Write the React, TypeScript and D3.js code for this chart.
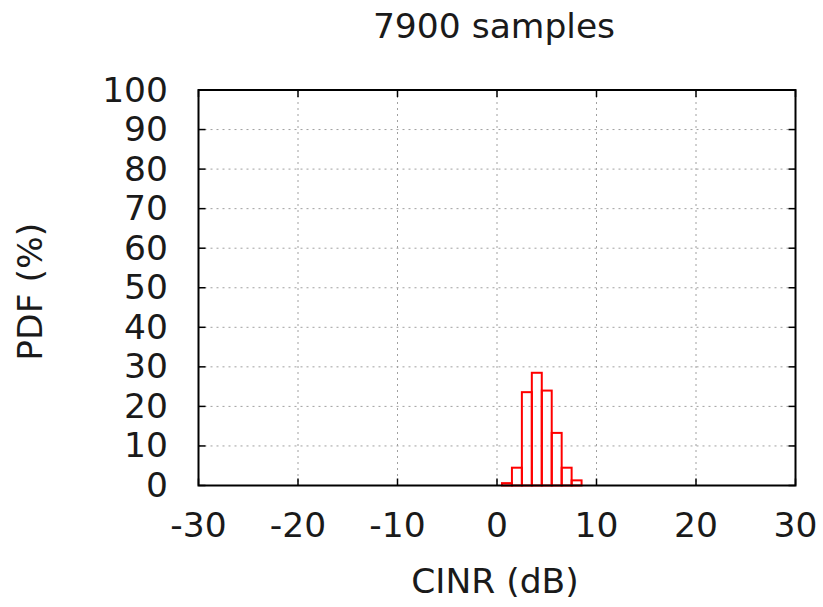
import React, { useEffect } from "react";
import * as d3 from "d3";

const binCenters = [1, 2, 3, 4, 5, 6, 7, 8];
const pdfValues = [0.6, 4.5, 23.6, 28.5, 24.0, 13.3, 4.5, 1.3];
const xTicks = [-30, -20, -10, 0, 10, 20, 30];
const yTicks = [0, 10, 20, 30, 40, 50, 60, 70, 80, 90, 100];
const titleText = "7900 samples";
const xLabel = "CINR (dB)";
const yLabel = "PDF (%)";

const W = 823;
const H = 607;
const left = 198.5;
const right = 795.5;
const top = 90;
const bottom = 485.5;
const font = "'DejaVu Sans', sans-serif";
const fs = 34.5;

export default function App() {
  useEffect(() => {
    document.body.style.margin = "0";
  }, []);
  const x = d3.scaleLinear().domain([-30, 30]).range([left, right]);
  const y = d3.scaleLinear().domain([0, 100]).range([bottom, top]);
  const binW = 1;
  const tickLen = 7;

  return (
    <svg width={W} height={H} style={{ display: "block", background: "#fff" }}>
      <rect x={0} y={0} width={W} height={H} fill="#fff" />
      {/* grid */}
      <g stroke="#a0a0a0" strokeWidth={1} strokeDasharray="2,4">
        {xTicks.slice(1, -1).map((t) => (
          <line key={"gx" + t} x1={x(t)} x2={x(t)} y1={top} y2={bottom} />
        ))}
        {yTicks.slice(1, -1).map((t) => (
          <line key={"gy" + t} x1={left} x2={right} y1={y(t)} y2={y(t)} />
        ))}
      </g>
      {/* bars */}
      <g fill="none" stroke="#ff0000" strokeWidth={2}>
        {binCenters.map((c, i) => (
          <rect
            key={"b" + i}
            x={x(c - binW / 2)}
            y={y(pdfValues[i])}
            width={x(c + binW / 2) - x(c - binW / 2)}
            height={y(0) - y(pdfValues[i])}
          />
        ))}
      </g>
      {/* ticks */}
      <g stroke="#000" strokeWidth={1.5}>
        {xTicks.map((t) => (
          <g key={"tx" + t}>
            <line x1={x(t)} x2={x(t)} y1={bottom} y2={bottom - tickLen} />
            <line x1={x(t)} x2={x(t)} y1={top} y2={top + tickLen} />
          </g>
        ))}
        {yTicks.map((t) => (
          <g key={"ty" + t}>
            <line x1={left} x2={left + tickLen} y1={y(t)} y2={y(t)} />
            <line x1={right} x2={right - tickLen} y1={y(t)} y2={y(t)} />
          </g>
        ))}
      </g>
      {/* frame */}
      <rect x={left} y={top} width={right - left} height={bottom - top} fill="none" stroke="#000" strokeWidth={2} />
      {/* tick labels */}
      <g fontFamily={font} fontSize={fs} fill="#1a1a1a">
        {xTicks.map((t) => (
          <text key={"lx" + t} x={x(t)} y={536.5} textAnchor="middle">
            {String(t)}
          </text>
        ))}
        {yTicks.map((t) => (
          <text key={"ly" + t} x={168} y={y(t) + 11.5} textAnchor="end">
            {String(t)}
          </text>
        ))}
      </g>
      <text x={494} y={38} textAnchor="middle" fontFamily={font} fontSize={fs} fill="#1a1a1a">
        {titleText}
      </text>
      <text x={(left + right) / 2 - 2} y={593} textAnchor="middle" fontFamily={font} fontSize={fs} fill="#1a1a1a">
        {xLabel}
      </text>
      <text
        transform={`translate(42, ${(top + bottom) / 2 + 4}) rotate(-90)`}
        textAnchor="middle"
        fontFamily={font}
        fontSize={fs}
        fill="#1a1a1a"
      >
        {yLabel}
      </text>
    </svg>
  );
}
